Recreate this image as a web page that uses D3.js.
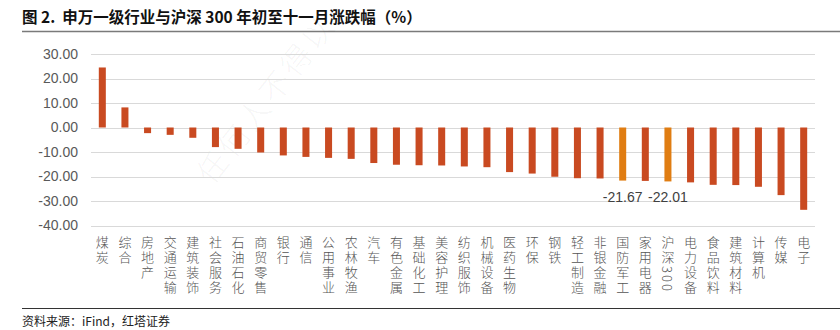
<!DOCTYPE html>
<html>
<head>
<meta charset="utf-8">
<script src="https://cdn.jsdelivr.net/npm/d3@7/dist/d3.min.js"></script>
<style>
  html, body { margin: 0; padding: 0; background: #fff; }
  svg { display: block; }
</style>
</head>
<body>
<div id="chart"></div>
<script>
// Shenwan level-1 industries vs CSI 300, year-to-date change through November (%)
const categories = ["煤炭","综合","房地产","交通运输","建筑装饰","社会服务","石油石化","商贸零售","银行","通信",
  "公用事业","农林牧渔","汽车","有色金属","基础化工","美容护理","纺织服饰","机械设备","医药生物","环保",
  "钢铁","轻工制造","非银金融","国防军工","家用电器","沪深300","电力设备","食品饮料","建筑材料","计算机","传媒","电子"];
const changes = [24.5, 8.2, -2.3, -3.0, -4.2, -8.0, -8.7, -10.2, -11.4, -12.0,
  -12.4, -12.8, -14.5, -15.2, -15.4, -15.5, -15.9, -16.2, -18.2, -18.8,
  -20.1, -20.7, -20.8, -21.67, -21.8, -22.01, -22.4, -23.4, -23.5, -24.2, -27.6, -33.6];
const highlighted = ["国防军工", "沪深300"];
const labelled = ["国防军工", "沪深300"];
const yTicks = [30, 20, 10, 0, -10, -20, -30, -40];

const W = 840, H = 330;
const plot = { left: 91, right: 815, top: 54, bottom: 225.5 };

const svg = d3.select("#chart").append("svg").attr("width", W).attr("height", H);

// Title and rules
svg.append("text")
  .attr("x", 22).attr("y", 23)
  .attr("font-family", "'Noto Sans CJK SC', sans-serif")
  .attr("font-weight", 700).attr("font-size", 15.5).attr("fill", "#111")
  .attr("xml:space", "preserve")
  .text("图 2.  申万一级行业与沪深 300 年初至十一月涨跌幅（%）");
svg.append("line").attr("x1", 22).attr("x2", W).attr("y1", 31.5).attr("y2", 31.5)
  .attr("stroke", "#7a7a7a").attr("stroke-width", 1.5);
svg.append("line").attr("x1", 22).attr("x2", W).attr("y1", 308.5).attr("y2", 308.5)
  .attr("stroke", "#333").attr("stroke-width", 1);
svg.append("text")
  .attr("x", 22).attr("y", 326)
  .attr("font-family", "'Noto Sans CJK SC', 'Liberation Sans', sans-serif")
  .attr("font-size", 12).attr("fill", "#222")
  .text("资料来源：iFind，红塔证券");

// Faint diagonal watermark
svg.append("text")
  .attr("transform", "translate(212,186) rotate(-52)")
  .attr("font-family", "'Noto Sans CJK SC', sans-serif")
  .attr("font-weight", 300)
  .attr("font-size", 30).attr("fill", "#000").attr("fill-opacity", 0.05)
  .attr("letter-spacing", 4)
  .text("任何人不得以");

const x = d3.scaleBand().domain(categories).range([plot.left, plot.right]).paddingInner(0.69).paddingOuter(0.345);
const y = d3.scaleLinear().domain([-40, 30]).range([plot.bottom, plot.top]);

// Gridlines
svg.append("g").selectAll("line").data(yTicks).join("line")
  .attr("x1", plot.left).attr("x2", plot.right)
  .attr("y1", d => Math.round(y(d)) + 0.5).attr("y2", d => Math.round(y(d)) + 0.5)
  .attr("stroke", "#d9d9d9").attr("stroke-width", 1);

// Y axis labels
const yAxis = d3.axisLeft(y).tickValues(yTicks).tickFormat(d3.format(".2f")).tickSize(0).tickPadding(0);
const gy = svg.append("g").attr("transform", `translate(78,0)`).call(yAxis);
gy.select(".domain").remove();
gy.selectAll("text")
  .attr("font-family", "'Liberation Sans', Arial, sans-serif")
  .attr("font-size", 14).attr("fill", "#595959")
  .text(d => d3.format(".2f")(d).replace("−", "-"));

// Bars
svg.append("g").selectAll("rect").data(categories).join("rect")
  .attr("x", d => x(d))
  .attr("width", x.bandwidth())
  .attr("y", (d, i) => y(Math.max(0, changes[i])))
  .attr("height", (d, i) => Math.abs(y(changes[i]) - y(0)))
  .attr("fill", d => highlighted.includes(d) ? "#e07d12" : "#c94a21");

// Value labels for highlighted bars
svg.append("g").selectAll("text").data(categories.filter(c => labelled.includes(c))).join("text")
  .attr("x", d => x(d) + x.bandwidth() / 2)
  .attr("y", d => y(changes[categories.indexOf(d)]) + 21)
  .attr("text-anchor", "middle")
  .attr("font-family", "'Liberation Sans', Arial, sans-serif")
  .attr("font-size", 14).attr("fill", "#404040")
  .text(d => changes[categories.indexOf(d)].toFixed(2));

// Vertical category labels (digits run sideways, as in mixed orientation)
svg.append("g").selectAll("text").data(categories).join("text")
  .attr("x", d => x(d) + x.bandwidth() / 2)
  .attr("y", 236)
  .attr("font-family", "'Noto Sans CJK SC', sans-serif")
  .attr("font-weight", 300)
  .attr("font-size", 13).attr("fill", "#555")
  .attr("letter-spacing", 2)
  .style("writing-mode", "vertical-rl")
  .style("text-orientation", "mixed")
  .text(d => d);
</script>
</body>
</html>
